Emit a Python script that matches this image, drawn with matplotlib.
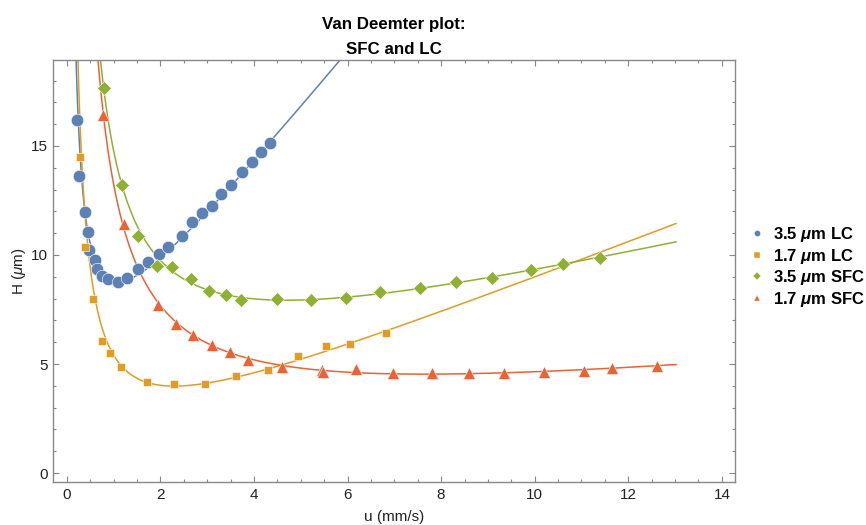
import numpy as np
import matplotlib.pyplot as plt
from matplotlib.ticker import MultipleLocator

plt.rcParams['font.family'] = ['Liberation Sans', 'DejaVu Sans']
plt.rcParams['mathtext.fontset'] = 'custom'
plt.rcParams['mathtext.rm'] = 'Liberation Sans'
plt.rcParams['mathtext.it'] = 'Liberation Sans:italic'
plt.rcParams['mathtext.bf'] = 'Liberation Sans:bold'
plt.rcParams['mathtext.bfit'] = 'Liberation Sans:italic:bold'

# 3.5 um LC
u_lc35 = [0.23, 0.27, 0.39, 0.46, 0.48, 0.60, 0.65, 0.75, 0.88, 1.10, 1.29, 1.52, 1.74,
          1.97, 2.17, 2.46, 2.68, 2.89, 3.11, 3.30, 3.51, 3.75, 3.96, 4.15, 4.35]
h_lc35 = [16.19, 13.64, 11.97, 11.06, 10.23, 9.77, 9.36, 9.04, 8.90, 8.76, 8.94, 9.36, 9.68,
          10.05, 10.37, 10.87, 11.51, 11.93, 12.25, 12.80, 13.21, 13.81, 14.27, 14.72, 15.14]

# 1.7 um LC
u_lc17 = [0.28, 0.39, 0.56, 0.75, 0.93, 1.16, 1.72, 2.30, 2.96, 3.62, 4.31, 4.94, 5.54, 6.06, 6.82]
h_lc17 = [14.50, 10.37, 7.98, 6.06, 5.50, 4.86, 4.17, 4.08, 4.08, 4.45, 4.72, 5.37, 5.83, 5.92, 6.42]

# 3.5 um SFC
u_sfc35 = [0.80, 1.18, 1.53, 1.93, 2.25, 2.66, 3.04, 3.40, 3.73, 4.49, 5.22, 5.97, 6.70,
           7.55, 8.32, 9.09, 9.92, 10.61, 11.40]
h_sfc35 = [17.66, 13.21, 10.87, 9.50, 9.45, 8.90, 8.35, 8.17, 7.94, 7.98, 7.94, 8.03, 8.30,
           8.49, 8.76, 8.94, 9.31, 9.59, 9.86]

# 1.7 um SFC
u_sfc17 = [0.78, 1.22, 1.95, 2.34, 2.70, 3.11, 3.49, 3.88, 4.60, 5.46, 5.47, 6.18, 6.97,
           7.81, 8.60, 9.35, 10.20, 11.06, 11.65, 12.62]
h_sfc17 = [16.42, 11.42, 7.71, 6.83, 6.33, 5.87, 5.55, 5.18, 4.86, 4.72, 4.62, 4.77, 4.59,
           4.59, 4.59, 4.59, 4.63, 4.68, 4.82, 4.91]

# Van Deemter fits H = A + B/u + C*u
fit_a = [3.08, 0.10, 3.20, 1.51]
fit_b = [3.07, 4.47, 11.10, 11.56]
fit_c = [2.625, 0.845, 0.503, 0.198]

labels = [r'3.5 $\mathbfit{\mu}$m LC', r'1.7 $\mathbfit{\mu}$m LC',
          r'3.5 $\mathbfit{\mu}$m SFC', r'1.7 $\mathbfit{\mu}$m SFC']
colors = ['#5E81B5', '#E19C24', '#8FB032', '#EB6235']
markers = ['o', 's', 'D', '^']
msizes = [9.0, 5.8, 7.0, 8.0]
us = [u_lc35, u_lc17, u_sfc35, u_sfc17]
hs = [h_lc35, h_lc17, h_sfc35, h_sfc17]

fig = plt.figure(figsize=(8.66, 5.25), dpi=100)
ax = fig.add_axes([53 / 866, 1 - 482 / 525, (735 - 53) / 866, (482 - 60) / 525])

uu = np.linspace(0.1, 13.02, 600)
handles = []
for i in range(4):
    col = colors[i]
    ax.plot(uu, fit_a[i] + fit_b[i] / uu + fit_c[i] * uu, color=col, lw=1.1, zorder=2)
    ax.plot(us[i], hs[i], ls='none', marker=markers[i], ms=msizes[i], color=col,
            mec='white', mew=0.4, zorder=3)
    handles.append(plt.Line2D([], [], ls='none', marker=markers[i], ms=4.5, color=col,
                              mec='white', mew=0.3, label=labels[i]))

ax.set_xlim(-0.293, 14.28)
ax.set_ylim(-0.41, 18.94)
ax.xaxis.set_major_locator(MultipleLocator(2))
ax.xaxis.set_minor_locator(MultipleLocator(0.5))
ax.yaxis.set_major_locator(MultipleLocator(5))
ax.yaxis.set_minor_locator(MultipleLocator(1))
ax.tick_params(which='both', direction='in', top=True, right=True, color='#888888',
               labelsize=11, labelcolor='#222222', width=0.8)
ax.tick_params(which='major', length=4, pad=4)
ax.tick_params(which='minor', length=2)
for s in ax.spines.values():
    s.set_color('#888888')
    s.set_linewidth(1.0)

ax.set_xlabel('u (mm/s)', fontsize=11, color='#222222', labelpad=6)
ax.set_ylabel(r'H ($\mu$m)', fontsize=11, color='#222222', labelpad=2)
ax.set_title('Van Deemter plot:\nSFC and LC', fontsize=12.2, fontweight='bold',
             linespacing=1.9, pad=4)

fig.legend(handles=handles, loc='center left', bbox_to_anchor=(742 / 866, 1 - 267 / 525),
           frameon=False, prop={'weight': 'bold', 'size': 12},
           handletextpad=0.45, labelspacing=0.15, handlelength=1.0, borderaxespad=0)

fig.savefig('out.png', dpi=100)
